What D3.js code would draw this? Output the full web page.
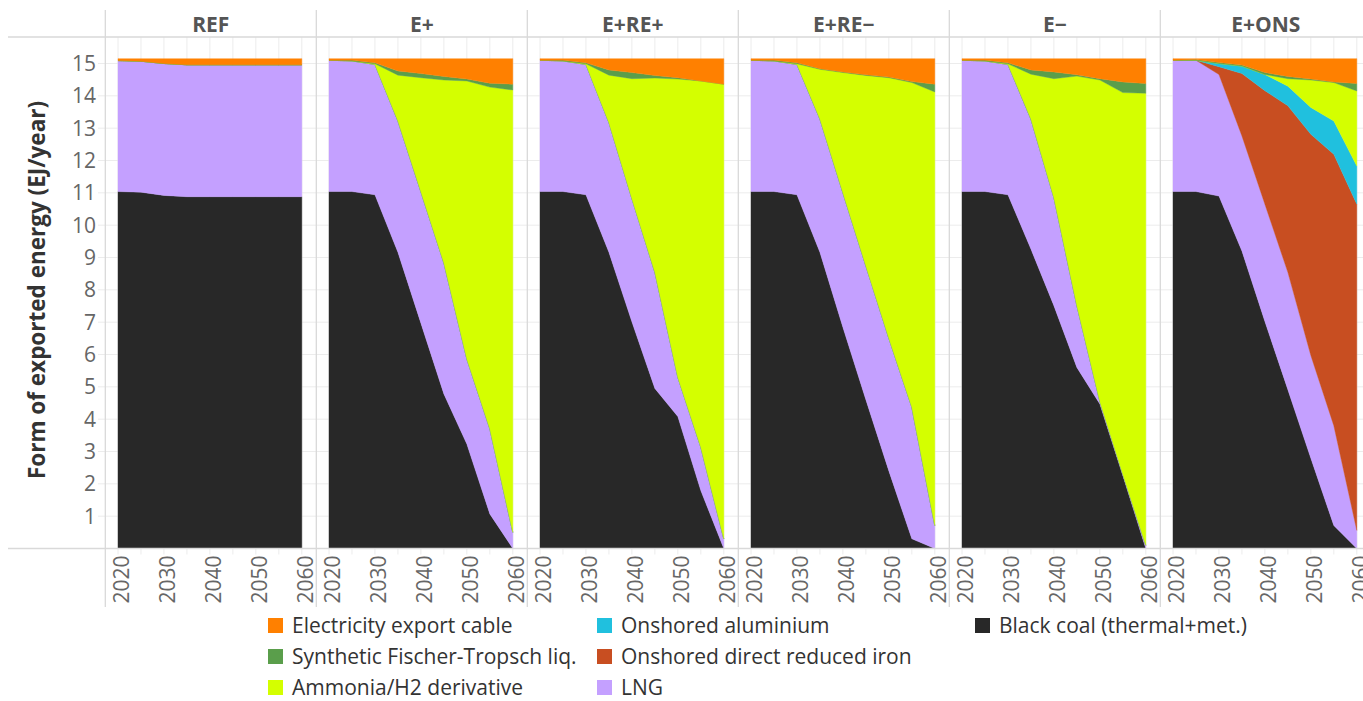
<!DOCTYPE html>
<html>
<head>
<meta charset="utf-8">
<script src="https://cdn.jsdelivr.net/npm/d3@7"></script>
<style>
  html, body { margin: 0; padding: 0; background: #fff; }
  svg { display: block; font-family: "Open Sans", "Noto Sans", sans-serif; }
</style>
</head>
<body>
<div id="chart"></div>
<script>
// ---------- DATA ----------
const years = [2020, 2025, 2030, 2035, 2040, 2045, 2050, 2055, 2060];
const scenarios = ["REF", "E+", "E+RE+", "E+RE\u2212", "E\u2212", "E+ONS"];
const xTicks = [2020, 2030, 2040, 2050, 2060];
const yTicks = [1, 2, 3, 4, 5, 6, 7, 8, 9, 10, 11, 12, 13, 14, 15];

// one row per scenario (same order as `scenarios`), one value per year (EJ/year)
const blackCoal = [
  [11.04, 11.02, 10.92, 10.88, 10.88, 10.88, 10.88, 10.88, 10.88],
  [11.04, 11.04, 10.94, 9.16, 6.97, 4.78, 3.23, 1.07, 0.0],
  [11.04, 11.04, 10.94, 9.16, 7.01, 4.95, 4.08, 1.79, 0.0],
  [11.04, 11.04, 10.94, 9.16, 6.84, 4.60, 2.40, 0.30, 0.0],
  [11.04, 11.04, 10.94, 9.26, 7.51, 5.60, 4.47, 2.26, 0.0],
  [11.04, 11.04, 10.90, 9.20, 7.02, 4.91, 2.79, 0.71, 0.0]
];
const lng = [
  [4.05, 4.05, 4.08, 4.08, 4.08, 4.08, 4.08, 4.08, 4.08],
  [4.06, 4.04, 4.03, 4.06, 4.06, 4.05, 2.63, 2.63, 0.50],
  [4.06, 4.04, 4.03, 4.01, 3.81, 3.59, 1.21, 1.34, 0.30],
  [4.06, 4.04, 4.03, 4.12, 4.16, 4.14, 4.10, 4.07, 0.71],
  [4.06, 4.04, 4.03, 4.02, 3.34, 1.91, 0.08, 0.04, 0.10],
  [4.06, 4.06, 3.76, 3.56, 3.63, 3.63, 3.18, 3.09, 0.56]
];
const onshoredDRI = [
  [0, 0, 0, 0, 0, 0, 0, 0, 0],
  [0, 0, 0, 0, 0, 0, 0, 0, 0],
  [0, 0, 0, 0, 0, 0, 0, 0, 0],
  [0, 0, 0, 0, 0, 0, 0, 0, 0],
  [0, 0, 0, 0, 0, 0, 0, 0, 0],
  [0, 0, 0.24, 1.93, 3.51, 5.15, 6.84, 8.39, 10.09]
];
const onshoredAluminium = [
  [0, 0, 0, 0, 0, 0, 0, 0, 0],
  [0, 0, 0, 0, 0, 0, 0, 0, 0],
  [0, 0, 0, 0, 0, 0, 0, 0, 0],
  [0, 0, 0, 0, 0, 0, 0, 0, 0],
  [0, 0, 0, 0, 0, 0, 0, 0, 0],
  [0, 0, 0.10, 0.23, 0.50, 0.61, 0.83, 1.03, 1.18]
];
const ammonia = [
  [0, 0, 0, 0, 0, 0, 0, 0, 0],
  [0, 0, 0.02, 1.42, 3.53, 5.66, 8.60, 10.57, 13.68],
  [0, 0, 0.02, 1.47, 3.71, 6.01, 9.23, 11.33, 14.06],
  [0, 0, 0.02, 1.54, 3.72, 5.89, 8.06, 10.04, 13.41],
  [0, 0, 0.02, 1.39, 3.68, 7.10, 9.94, 11.80, 13.98],
  [0, 0, 0, 0, 0.0, 0.23, 0.85, 1.19, 2.32]
];
const syntheticFT = [
  [0, 0, 0, 0, 0, 0, 0, 0, 0],
  [0, 0.02, 0.03, 0.13, 0.13, 0.11, 0.06, 0.12, 0.18],
  [0, 0.02, 0.03, 0.16, 0.19, 0.08, 0.04, 0.00, 0.00],
  [0, 0.02, 0.03, 0.02, 0.02, 0.02, 0.02, 0.03, 0.24],
  [0, 0.02, 0.03, 0.13, 0.21, 0.04, 0.04, 0.33, 0.30],
  [0, 0.02, 0.03, 0.03, 0.06, 0.07, 0.03, 0.02, 0.23]
];
const electricity = [
  [0.06, 0.08, 0.15, 0.19, 0.19, 0.19, 0.19, 0.19, 0.19],
  [0.05, 0.05, 0.13, 0.38, 0.46, 0.55, 0.63, 0.76, 0.79],
  [0.05, 0.05, 0.13, 0.35, 0.43, 0.52, 0.59, 0.69, 0.79],
  [0.05, 0.05, 0.13, 0.31, 0.41, 0.50, 0.57, 0.71, 0.79],
  [0.05, 0.05, 0.13, 0.35, 0.41, 0.50, 0.62, 0.72, 0.77],
  [0.05, 0.03, 0.12, 0.20, 0.43, 0.55, 0.63, 0.72, 0.77]
];

// stack order bottom -> top
const seriesKeys = ["black", "lng", "dri", "alu", "ammonia", "ft", "elec"];
const seriesData = {
  black: blackCoal, lng: lng, dri: onshoredDRI, alu: onshoredAluminium,
  ammonia: ammonia, ft: syntheticFT, elec: electricity
};
const seriesLabels = {
  elec: "Electricity export cable",
  ft: "Synthetic Fischer-Tropsch liq.",
  ammonia: "Ammonia/H2 derivative",
  alu: "Onshored aluminium",
  dri: "Onshored direct reduced iron",
  lng: "LNG",
  black: "Black coal (thermal+met.)"
};
const seriesColors = {
  elec: "#ff8000", ft: "#5a9e4b", ammonia: "#d4ff00", alu: "#20c0de",
  dri: "#c84e21", lng: "#c4a0ff", black: "#282828"
};
// legend layout: columns (column-major)
const legendColumns = [["elec", "ft", "ammonia"], ["alu", "dri", "lng"], ["black"]];

// ---------- LAYOUT ----------
const W = 1363, H = 701;
const panelX0 = 105.3, panelW = 211;
const plotTop = 37, plotBottom = 548.5;
const svg = d3.select("#chart").append("svg").attr("width", W).attr("height", H);

const y = d3.scaleLinear().domain([0, 15]).range([548.5, 63.5]);
const gridColor = "#ececec", borderColor = "#d9d9d9";

// horizontal gridlines
svg.append("g").selectAll("line").data(yTicks).join("line")
  .attr("x1", 98).attr("x2", W)
  .attr("y1", d => y(d)).attr("y2", d => y(d))
  .attr("stroke", gridColor).attr("stroke-width", 1);

// y tick labels
svg.append("g").selectAll("text").data(yTicks).join("text")
  .attr("x", 96).attr("y", d => y(d)).attr("dy", "0.36em")
  .attr("text-anchor", "end").attr("font-size", 21).attr("fill", "#666")
  .text(d => d);

// y-axis title
svg.append("text")
  .attr("transform", "translate(45,290) rotate(-90)")
  .attr("text-anchor", "middle").attr("font-size", 22.5).attr("font-weight", 700)
  .attr("fill", "#333")
  .text("Form of exported energy (EJ/year)");

const minorYears = d3.range(2020, 2061, 5);

scenarios.forEach((sc, i) => {
  const L = panelX0 + i * panelW;
  const x = d3.scaleLinear().domain([2020, 2060]).range([L + 12.7, L + 196.5]);
  const g = svg.append("g");

  // vertical gridlines
  g.selectAll("line.vg").data(minorYears).join("line").attr("class", "vg")
    .attr("x1", d => x(d)).attr("x2", d => x(d))
    .attr("y1", plotTop).attr("y2", plotBottom)
    .attr("stroke", gridColor);
  // small ticks below axis
  g.selectAll("line.tk").data(minorYears).join("line").attr("class", "tk")
    .attr("x1", d => x(d)).attr("x2", d => x(d))
    .attr("y1", plotBottom).attr("y2", plotBottom + 6)
    .attr("stroke", gridColor);

  // stacked areas
  const rows = years.map((yr, k) => {
    const r = { year: yr };
    seriesKeys.forEach(key => { r[key] = seriesData[key][i][k]; });
    return r;
  });
  const stacked = d3.stack().keys(seriesKeys)(rows);
  const area = d3.area()
    .x(d => x(d.data.year))
    .y0(d => y(d[0]))
    .y1(d => y(d[1]));
  g.selectAll("path.area").data(stacked).join("path").attr("class", "area")
    .attr("d", area)
    .attr("fill", d => seriesColors[d.key])
    .attr("stroke", d => seriesColors[d.key])
    .attr("stroke-width", 0.4);

  // x tick labels
  g.selectAll("text.xt").data(xTicks).join("text").attr("class", "xt")
    .attr("transform", d => `translate(${x(d)},${plotBottom + 7}) rotate(-90)`)
    .attr("dy", "0.52em").attr("text-anchor", "end")
    .attr("font-size", 21).attr("fill", "#666")
    .text(d => d);

  // header
  g.append("text")
    .attr("x", L + panelW / 2).attr("y", 32)
    .attr("text-anchor", "middle").attr("font-size", 21).attr("font-weight", 700)
    .attr("fill", "#555")
    .text(sc);
});

// panel borders
const borders = d3.range(0, scenarios.length + 1).map(k => panelX0 + k * panelW);
svg.append("g").selectAll("line").data(borders).join("line")
  .attr("x1", d => d).attr("x2", d => d)
  .attr("y1", 10).attr("y2", 607)
  .attr("stroke", borderColor).attr("stroke-width", 1.3);

// strip bottom line and axis baseline
svg.append("line").attr("x1", 8).attr("x2", W).attr("y1", plotTop).attr("y2", plotTop)
  .attr("stroke", borderColor).attr("stroke-width", 1.3);
svg.append("line").attr("x1", 8).attr("x2", W).attr("y1", plotBottom).attr("y2", plotBottom)
  .attr("stroke", borderColor).attr("stroke-width", 1.3);

// legend
const legendColX = [268, 597, 975];
const legendRowY = [618, 649, 680];
const lg = svg.append("g");
legendColumns.forEach((col, ci) => {
  col.forEach((key, ri) => {
    lg.append("rect")
      .attr("x", legendColX[ci]).attr("y", legendRowY[ri])
      .attr("width", 15).attr("height", 15)
      .attr("fill", seriesColors[key]);
    lg.append("text")
      .attr("x", legendColX[ci] + 24).attr("y", legendRowY[ri] + 15)
      .attr("font-size", 21).attr("fill", "#333")
      .text(seriesLabels[key]);
  });
});
</script>
</body>
</html>
